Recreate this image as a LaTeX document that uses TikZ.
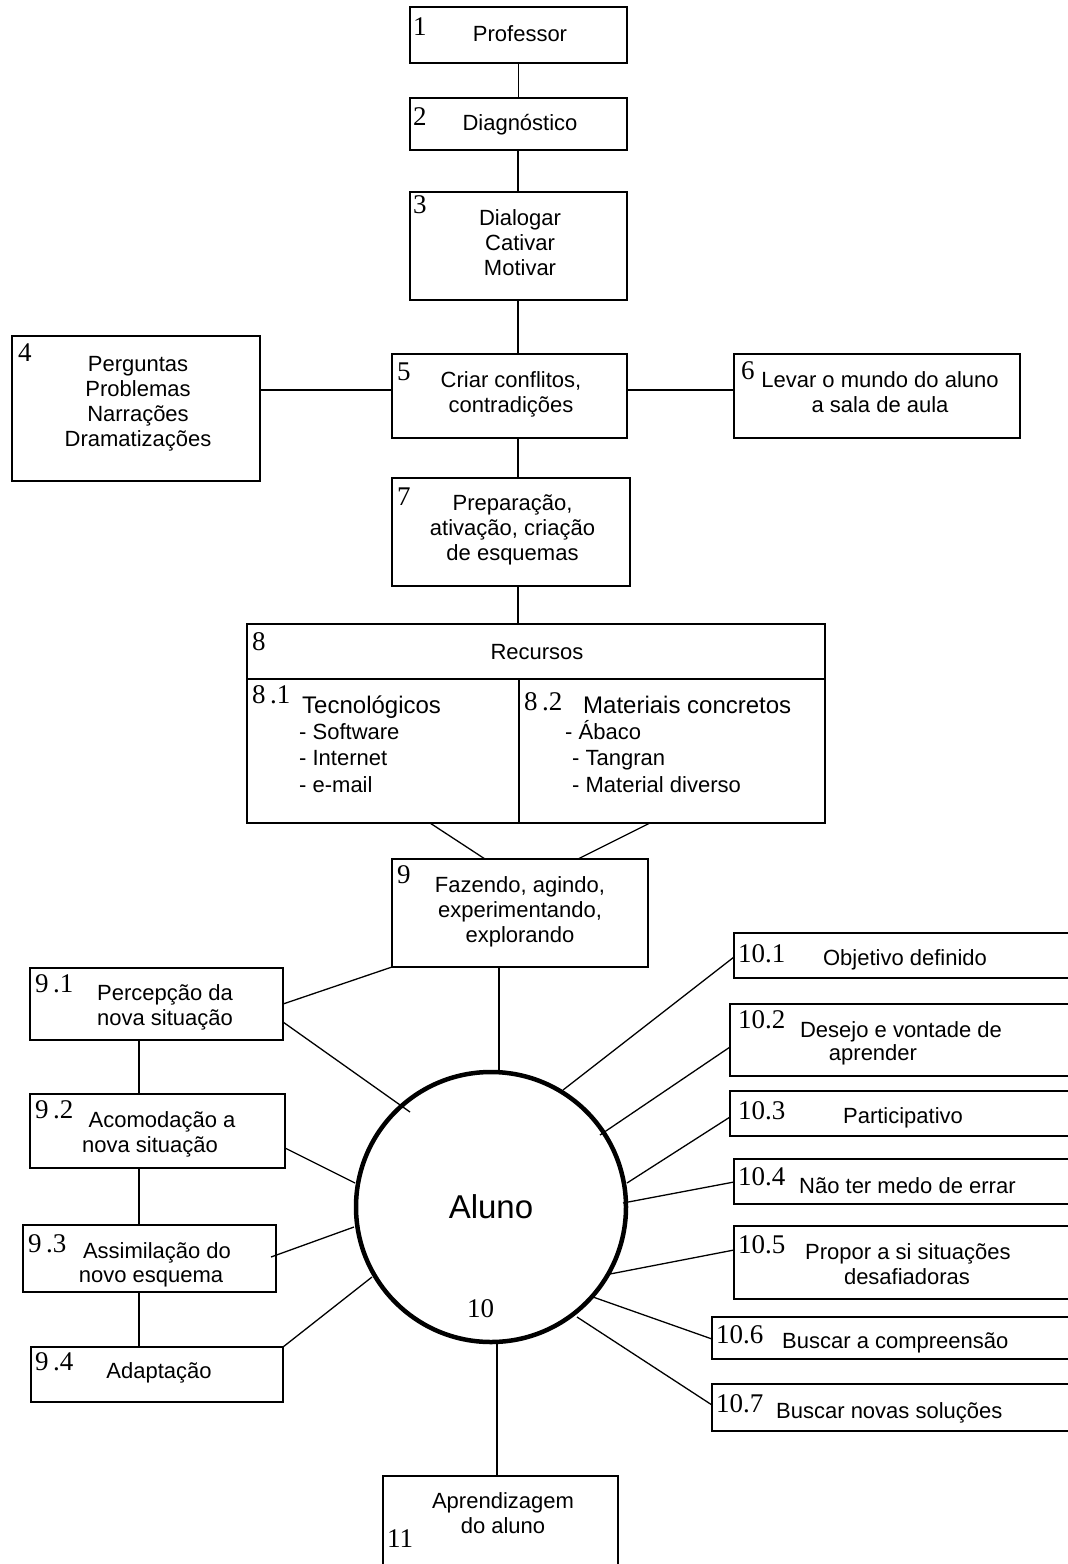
\documentclass[tikz,border=0pt]{standalone}
\usepackage{fontspec}
\setmainfont{Liberation Sans}
\newfontfamily\numf{Liberation Serif}
\begin{document}
\begin{tikzpicture}[x=1pt,y=-1pt,
  box/.style={draw, line width=1.4pt, inner sep=0pt, outer sep=0pt, rectangle},
  txt/.style={inner sep=0pt, align=center, anchor=base, font=\fontsize{22}{25}\selectfont},
  txtl/.style={inner sep=0pt, align=left, anchor=base west, font=\fontsize{22}{26.5}\selectfont},
  head/.style={inner sep=0pt, anchor=base west, font=\fontsize{24}{26}\selectfont},
  num/.style={inner sep=0pt, anchor=base west, font=\numf\fontsize{27}{27}\selectfont},
  ln/.style={line width=1.3pt}]
\useasboundingbox (0,0) rectangle (1068,1564);

% ---------- boxes ----------
\node[box, minimum width=217pt, minimum height=56pt]  (b1)  at (518.5,35) {};
\node[box, minimum width=217pt, minimum height=52pt]  (b2)  at (518.5,124) {};
\node[box, minimum width=217pt, minimum height=108pt] (b3)  at (518.5,246) {};
\node[box, minimum width=248pt, minimum height=145pt] (b4)  at (136,408.5) {};
\node[box, minimum width=235pt, minimum height=84pt]  (b5)  at (509.5,396) {};
\node[box, minimum width=286pt, minimum height=84pt]  (b6)  at (877,396) {};
\node[box, minimum width=238pt, minimum height=108pt] (b7)  at (511,532) {};
\node[box, minimum width=578pt, minimum height=199pt] (b8)  at (536,723.5) {};
\node[box, minimum width=256pt, minimum height=108pt] (b9)  at (520,913) {};
\node[box, minimum width=253pt, minimum height=72pt]  (b91) at (156.5,1004) {};
\node[box, minimum width=255pt, minimum height=74pt]  (b92) at (157.5,1131) {};
\node[box, minimum width=253pt, minimum height=67pt]  (b93) at (149.5,1258.5) {};
\node[box, minimum width=252pt, minimum height=55pt]  (b94) at (157,1374.5) {};
\node[box, minimum width=341pt, minimum height=45pt]  (b101) at (904.5,955.5) {};
\node[box, minimum width=345pt, minimum height=72pt]  (b102) at (902.5,1040) {};
\node[box, minimum width=345pt, minimum height=45pt]  (b103) at (902.5,1113.5) {};
\node[box, minimum width=341pt, minimum height=45pt]  (b104) at (904.5,1181.5) {};
\node[box, minimum width=341pt, minimum height=73pt]  (b105) at (904.5,1262.5) {};
\node[box, minimum width=363pt, minimum height=42pt]  (b106) at (893.5,1338) {};
\node[box, minimum width=363pt, minimum height=47pt]  (b107) at (893.5,1407.5) {};
\node[box, minimum width=235pt, minimum height=94pt]  (b11) at (500.5,1523) {};
\node[draw, circle, line width=4.5pt, minimum size=270pt, inner sep=0pt,
      font=\fontsize{33}{33}\selectfont] (al) at (491,1207) {Aluno};

% dividers of box 8
\coordinate (d8) at (519,679);
\draw[box] (b8.west |- d8) -- (b8.east |- d8);
\draw[box] (d8) -- (d8 |- b8.south);

% ---------- texts (base = baseline of last line) ----------
\node[txt] (t1) at (520,41) {Professor};
\node[txt] (t2) at (520,130) {Diagnóstico};
\node[txt] (t3) at (520,275) {Dialogar\\Cativar\\Motivar};
\node[txt] (t4) at (138,446) {Perguntas\\Problemas\\Narrações\\Dramatizações};
\node[txt] (t5) at (511,412) {Criar conflitos,\\contradições};
\node[txt] (t6) at (880,412) {Levar o mundo do aluno\\a sala de aula};
\node[txt] (t7) at (512.5,560) {Preparação,\\ativação, criação\\de esquemas};
\node[txt] (t8) at (537,659) {Recursos};
\node[head] (t81) at (302,713) {Tecnológicos};
\node[txtl] (t81b) at (299,792) {- Software\\- Internet\\- e-mail};
\node[head] (t82) at (583,713) {Materiais concretos};
\node[txtl] (t82a) at (565,739) {- Ábaco};
\node[txtl] (t82b) at (572,765) {- Tangran};
\node[txtl] (t82c) at (572,792) {- Material diverso};
\node[txt] (t9) at (520,942) {Fazendo, agindo,\\experimentando,\\explorando};
\node[txt] (t91) at (165,1025) {Percepção da\\nova situação};
\node[txt] (t92a) at (162,1127) {Acomodação a};
\node[txt] (t92b) at (150,1152) {nova situação};
\node[txt] (t93a) at (157,1258) {Assimilação do};
\node[txt] (t93b) at (151,1282) {novo esquema};
\node[txt] (t94) at (159,1378) {Adaptação};
\node[txt] (t101) at (905,965) {Objetivo definido};
\node[txt] (t102a) at (901,1037) {Desejo e vontade de};
\node[txt] (t102b) at (873,1060) {aprender};
\node[txt] (t103) at (903,1123) {Participativo};
\node[txtl] (t104) at (799,1193) {Não ter medo de errar};
\node[txtl] (t105a) at (805,1259) {Propor a si situações};
\node[txt] (t105b) at (907,1284) {desafiadoras};
\node[txtl] (t106) at (782,1348) {Buscar a compreensão};
\node[txtl] (t107) at (776,1418) {Buscar novas soluções};
\node[txt] (t11) at (503,1533) {Aprendizagem\\do aluno};

% ---------- number labels ----------
\node[num] (n1) at (413,35) {1};
\node[num] (n2) at (413,125) {2};
\node[num] (n3) at (413,213) {3};
\node[num] (n4) at (18,361) {4};
\node[num] (n5) at (397,380) {5};
\node[num] (n6) at (741,379) {6};
\node[num] (n7) at (397,505) {7};
\node[num] (n8) at (252,650) {8};
\node[num] (n81) at (252,703) {8\,.1};
\node[num] (n82) at (524,710) {8\,.2};
\node[num] (n9) at (397,883) {9};
\node[num] (n91) at (35,992) {9\,.1};
\node[num] (n92) at (35,1118) {9\,.2};
\node[num] (n93) at (28,1252) {9\,.3};
\node[num] (n94) at (35,1370) {9\,.4};
\node[num] (n101) at (738,962) {10.1};
\node[num] (n102) at (738,1028) {10.2};
\node[num] (n103) at (738,1119) {10.3};
\node[num] (n104) at (738,1185) {10.4};
\node[num] (n105) at (738,1253) {10.5};
\node[num] (n106) at (716,1343) {10.6};
\node[num] (n107) at (716,1412) {10.7};
\node[num] (n10) at (467,1317) {10};
\node[num] (n11) at (387,1547) {11};

% ---------- connectors ----------
\coordinate (ax) at (518,0);
\draw[ln] (b1.south) -- (b2.north);
\draw[ln] (ax |- b2.south) -- (ax |- b3.north);
\draw[ln] (ax |- b3.south) -- (ax |- b5.north);
\draw[ln] (ax |- b5.south) -- (ax |- b7.north);
\draw[ln] (ax |- b7.south) -- (ax |- b8.north);
\coordinate (y45) at (0,390);
\draw[ln] (b4.east |- y45) -- (b5.west |- y45);
\draw[ln] (b5.east |- y45) -- (b6.west |- y45);
% box 8 to box 9
\coordinate (e8a) at (430,0);
\coordinate (e8b) at (650,0);
\coordinate (e9a) at (485,0);
\coordinate (e9b) at (578,0);
\draw[ln] (e8a |- b8.south) -- (e9a |- b9.north);
\draw[ln] (e8b |- b8.south) -- (e9b |- b9.north);
% box 9 to circle
\coordinate (k9) at (499,1071);
\draw[ln] (k9 |- b9.south) -- (k9);
% box 9 to 9.1
\coordinate (y91a) at (0,1004);
\draw[ln] (b9.south west) -- (b91.east |- y91a);
% left chain
\coordinate (cx9) at (139,0);
\draw[ln] (cx9 |- b91.south) -- (cx9 |- b92.north);
\draw[ln] (cx9 |- b92.south) -- (cx9 |- b93.north);
\draw[ln] (cx9 |- b93.south) -- (cx9 |- b94.north);
% left boxes to circle
\coordinate (c91) at (410,1112);
\coordinate (c92) at (355,1183);
\coordinate (c93) at (354,1227);
\coordinate (c94) at (372,1277);
\coordinate (y91b) at (0,1022);
\coordinate (y92) at (0,1148);
\coordinate (p93) at (271,1257);
\draw[ln] (b91.east |- y91b) -- (c91);
\draw[ln] (b92.east |- y92) -- (c92);
\draw[ln] (p93) -- (c93);
\draw[ln] (b94.north east) -- (c94);
% right boxes to circle
\coordinate (c101) at (563,1090);
\coordinate (c102) at (600,1135);
\coordinate (c103) at (627,1183);
\coordinate (c104) at (623,1203);
\coordinate (c105) at (610,1274);
\coordinate (c106) at (593,1297);
\coordinate (c107) at (577,1317);
\draw[ln] (b101.west |- 0,957) -- (c101);
\draw[ln] (b102.west |- 0,1047) -- (c102);
\draw[ln] (b103.west |- 0,1117) -- (c103);
\draw[ln] (b104.west |- 0,1182) -- (c104);
\draw[ln] (b105.west |- 0,1250) -- (c105);
\draw[ln] (b106.west |- 0,1339) -- (c106);
\draw[ln] (b107.west |- 0,1405) -- (c107);
% circle to box 11
\coordinate (k11) at (497,1342);
\draw[ln] (k11) -- (k11 |- b11.north);
\end{tikzpicture}
\end{document}
